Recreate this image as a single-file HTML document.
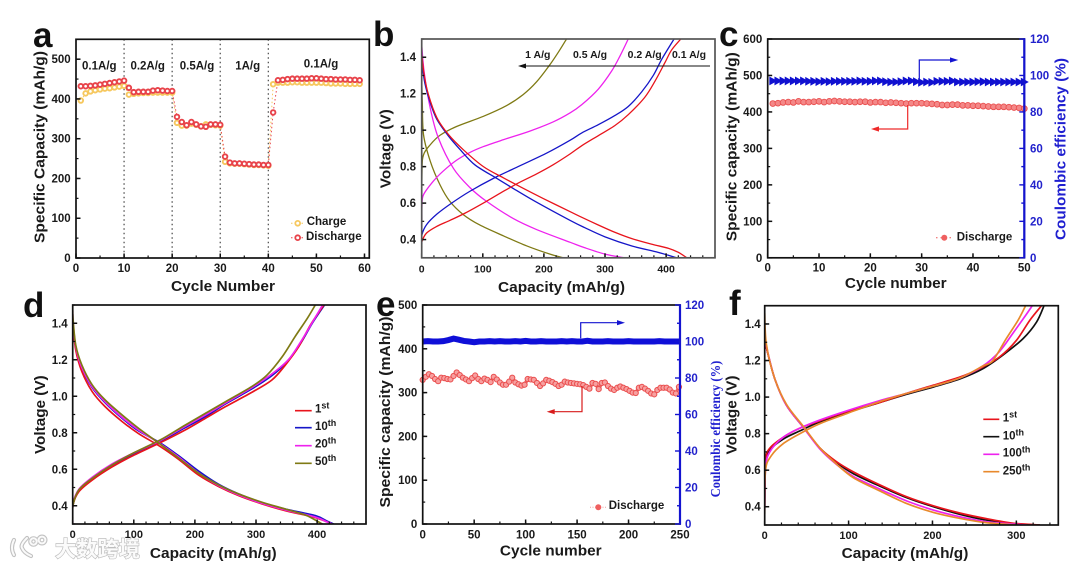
<!DOCTYPE html>
<html lang="en">
<head>
<meta charset="utf-8">
<title>Battery performance panels</title>
<style>
html,body{margin:0;padding:0;background:#fff;width:1080px;height:567px;overflow:hidden}
svg{display:block;filter:blur(0.3px)}
text{font-family:"Liberation Sans","Noto Sans CJK SC",sans-serif;font-weight:700;fill:#1a1a1a}
.serif{font-family:"Liberation Serif",serif}
.letter{font-size:35px;fill:#111}
.title{font-size:14.5px}
.note{font-size:11.5px}
.note-b{font-size:10.5px}
.leg{font-size:11.5px}
.sup{font-size:9px}
.blue{fill:#1f1fd0}
</style>
</head>
<body>
<svg id="figure" xmlns="http://www.w3.org/2000/svg" width="1080" height="567" viewBox="0 0 1080 567">
  <defs>
    <clipPath id="clip-b"><rect x="421.7" y="39" width="293.3" height="218.8"/></clipPath>
    <clipPath id="clip-d"><rect x="72.7" y="305" width="293.3" height="219"/></clipPath>
    <clipPath id="clip-f"><rect x="764.7" y="305.7" width="293.6" height="219.3"/></clipPath>
  </defs>

  <g>
    <g fill="none">
      <g stroke="#c2c2c2" stroke-width="4.2" stroke-linecap="round">
        <path d="M14 540 Q10 548 14 555"/>
        <path d="M27 538 Q20 545 22 548 Q24 553 31 556"/>
        <circle cx="33.5" cy="541.5" r="3.2"/>
        <circle cx="42" cy="540" r="3.4"/>
      </g>
      <g stroke="#fafafa" stroke-width="2" stroke-linecap="round">
        <path d="M14 540 Q10 548 14 555"/>
        <path d="M27 538 Q20 545 22 548 Q24 553 31 556"/>
        <circle cx="33.5" cy="541.5" r="3.2"/>
        <circle cx="42" cy="540" r="3.4"/>
      </g>
    </g>
    <text x="55" y="556.5" font-size="21.5" textLength="85" lengthAdjust="spacingAndGlyphs" style="fill:#fbfbfb;stroke:#bdbdbd;stroke-width:1.3;paint-order:stroke;font-weight:700">大数跨境</text>
  </g>

  <g id="panel-a">
    <text class="letter" x="33" y="47">a</text>
    <text class="title" x="223" y="291" text-anchor="middle" textLength="104" lengthAdjust="spacingAndGlyphs">Cycle Number</text>
    <text class="title" transform="translate(44.5 147) rotate(-90)" text-anchor="middle" textLength="192" lengthAdjust="spacingAndGlyphs">Specific Capacity (mAh/g)</text>
    <g id="plot-a"></g>
    <text class="note" x="99.3" y="69.3" text-anchor="middle">0.1A/g</text>
    <text class="note" x="147.7" y="69.3" text-anchor="middle">0.2A/g</text>
    <text class="note" x="197" y="69.3" text-anchor="middle">0.5A/g</text>
    <text class="note" x="247.7" y="69.3" text-anchor="middle">1A/g</text>
    <text class="note" x="321" y="67.3" text-anchor="middle">0.1A/g</text>
    <g>
      <line x1="291" x2="304" y1="223.3" y2="223.3" stroke="#f6c85f" stroke-width="1" stroke-dasharray="1.5 2"/>
      <circle cx="297.7" cy="223.3" r="2.4" fill="#fff" stroke="#f6c85f" stroke-width="1.8"/>
      <text class="leg" x="306.7" y="225">Charge</text>
      <line x1="291" x2="304" y1="237.7" y2="237.7" stroke="#e8434a" stroke-width="1" stroke-dasharray="1.5 2"/>
      <circle cx="297.7" cy="237.7" r="2.4" fill="#fff" stroke="#e8434a" stroke-width="1.8"/>
      <text class="leg" x="306" y="240">Discharge</text>
    </g>
  </g>

  <g id="panel-b">
    <text class="letter" x="373" y="46">b</text>
    <text class="title" x="561.5" y="292" text-anchor="middle" textLength="127" lengthAdjust="spacingAndGlyphs">Capacity (mAh/g)</text>
    <text class="title" transform="translate(390.7 148.7) rotate(-90)" text-anchor="middle" textLength="79" lengthAdjust="spacingAndGlyphs">Voltage (V)</text>
    <g id="plot-b"></g>
    <text class="note-b" x="537.8" y="58" text-anchor="middle">1 A/g</text>
    <text class="note-b" x="590" y="58" text-anchor="middle">0.5 A/g</text>
    <text class="note-b" x="644.7" y="58" text-anchor="middle">0.2 A/g</text>
    <text class="note-b" x="689" y="58" text-anchor="middle">0.1 A/g</text>
    <g>
      <line x1="710" y1="66" x2="522" y2="66" stroke="#111" stroke-width="1"/>
      <polygon points="518,66 526,63.5 526,68.5" fill="#111"/>
    </g>
  </g>

  <g id="panel-c">
    <text class="letter" x="719" y="46">c</text>
    <text class="title" x="895.8" y="288" text-anchor="middle" textLength="101.7" lengthAdjust="spacingAndGlyphs">Cycle number</text>
    <text class="title" transform="translate(736.7 146.7) rotate(-90)" text-anchor="middle" textLength="189" lengthAdjust="spacingAndGlyphs">Specific capacity (mAh/g)</text>
    <text class="title blue" transform="translate(1065.7 149) rotate(-90)" text-anchor="middle" textLength="182" lengthAdjust="spacingAndGlyphs">Coulombic efficiency (%)</text>
    <g id="plot-c"></g>
    <g>
      <polyline points="919.3,81.3 919.3,60 954,60" fill="none" stroke="#1414d0" stroke-width="1.2"/>
      <polygon points="958.3,60 950,57.4 950,62.6" fill="#1414d0"/>
    </g>
    <g>
      <polyline points="907.7,105 907.7,129 875,129" fill="none" stroke="#ee2a2a" stroke-width="1.2"/>
      <polygon points="871,129 879,126.4 879,131.6" fill="#ee2a2a"/>
    </g>
    <g>
      <line x1="936" x2="953" y1="237.7" y2="237.7" stroke="#ee5555" stroke-width="1" stroke-dasharray="1.5 3"/>
      <circle cx="944.3" cy="237.7" r="3" fill="#ef6060"/>
      <text class="leg" x="956.7" y="240.7">Discharge</text>
    </g>
  </g>

  <g id="panel-d">
    <text class="letter" x="23" y="317">d</text>
    <text class="title" x="213.3" y="558" text-anchor="middle" textLength="126.7" lengthAdjust="spacingAndGlyphs">Capacity (mAh/g)</text>
    <text class="title" transform="translate(45 414.7) rotate(-90)" text-anchor="middle" textLength="78.7" lengthAdjust="spacingAndGlyphs">Voltage (V)</text>
    <g id="plot-d"></g>
    <g>
      <line x1="295" x2="311.7" y1="410.7" y2="410.7" stroke="#e8141c" stroke-width="1.7"/>
      <text class="leg" x="315" y="412.7">1<tspan class="sup" dy="-4">st</tspan></text>
      <line x1="295" x2="311.7" y1="427.7" y2="427.7" stroke="#1616c8" stroke-width="1.7"/>
      <text class="leg" x="315" y="430">10<tspan class="sup" dy="-4">th</tspan></text>
      <line x1="295" x2="311.7" y1="445.7" y2="445.7" stroke="#ee22ee" stroke-width="1.7"/>
      <text class="leg" x="315" y="447.7">20<tspan class="sup" dy="-4">th</tspan></text>
      <line x1="295" x2="311.7" y1="463.3" y2="463.3" stroke="#7f7a14" stroke-width="1.7"/>
      <text class="leg" x="315" y="465">50<tspan class="sup" dy="-4">th</tspan></text>
    </g>
  </g>

  <g id="panel-e">
    <text class="letter" x="376" y="316">e</text>
    <text class="title" x="550.8" y="555.7" text-anchor="middle" textLength="101.7" lengthAdjust="spacingAndGlyphs">Cycle number</text>
    <text class="title" transform="translate(390 412) rotate(-90)" text-anchor="middle" textLength="191" lengthAdjust="spacingAndGlyphs">Specific capacity (mAh/g)</text>
    <text class="serif blue" font-size="13.5" transform="translate(720 429) rotate(-90)" text-anchor="middle" textLength="136.7" lengthAdjust="spacingAndGlyphs">Coulombic efficiency (%)</text>
    <g id="plot-e"></g>
    <g>
      <polyline points="580.7,338.3 580.7,322.7 621,322.7" fill="none" stroke="#1414d0" stroke-width="1.2"/>
      <polygon points="625,322.7 617,320.1 617,325.3" fill="#1414d0"/>
    </g>
    <g>
      <polyline points="582,386 582,411.7 550.7,411.7" fill="none" stroke="#d81c1c" stroke-width="1.2"/>
      <polygon points="546.7,411.7 554.7,409.1 554.7,414.3" fill="#d81c1c"/>
    </g>
    <g>
      <line x1="590" x2="606" y1="507.3" y2="507.3" stroke="#f0a0a0" stroke-width="1" stroke-dasharray="1 1.5"/>
      <circle cx="598.3" cy="507.3" r="3" fill="#ef6060"/>
      <text class="leg" x="608.7" y="509">Discharge</text>
    </g>
  </g>

  <g id="panel-f">
    <text class="letter" x="729" y="315">f</text>
    <text class="title" x="905" y="558" text-anchor="middle" textLength="126.7" lengthAdjust="spacingAndGlyphs">Capacity (mAh/g)</text>
    <text class="title" transform="translate(736.7 415) rotate(-90)" text-anchor="middle" textLength="79" lengthAdjust="spacingAndGlyphs">Voltage (V)</text>
    <g id="plot-f"></g>
    <g>
      <line x1="983.3" x2="999.3" y1="419.3" y2="419.3" stroke="#e8141c" stroke-width="1.7"/>
      <text class="leg" x="1002.7" y="421.7">1<tspan class="sup" dy="-4">st</tspan></text>
      <line x1="983.3" x2="999.3" y1="436.7" y2="436.7" stroke="#111" stroke-width="1.7"/>
      <text class="leg" x="1002.7" y="439.3">10<tspan class="sup" dy="-4">th</tspan></text>
      <line x1="983.3" x2="999.3" y1="454.3" y2="454.3" stroke="#ee22ee" stroke-width="1.7"/>
      <text class="leg" x="1002.7" y="456.7">100<tspan class="sup" dy="-4">th</tspan></text>
      <line x1="983.3" x2="999.3" y1="471.7" y2="471.7" stroke="#e8892c" stroke-width="1.7"/>
      <text class="leg" x="1002.7" y="474.3">250<tspan class="sup" dy="-4">th</tspan></text>
    </g>
  </g>
</svg>

<script>
// ---------- Panel a ----------
const aCycles = [1,2,3,4,5,6,7,8,9,10,11,12,13,14,15,16,17,18,19,20,21,22,23,24,25,26,27,28,29,30,31,32,33,34,35,36,37,38,39,40,41,42,43,44,45,46,47,48,49,50,51,52,53,54,55,56,57,58,59];
const aCharge = [396,414,419,422,424,426,427,429,431,433,411,413,414,415,415,416,416,416,416,416,340,333,333,338,335,331,336,335,334,333,242,238,237,237,236,235,234,234,233,232,437,441,441,441,442,442,441,441,441,441,441,440,439,439,439,438,438,438,438];
const aDischarge = [432,432,433,434,436,438,440,442,444,446,428,417,418,418,418,421,422,421,420,420,355,342,334,342,336,331,330,336,336,335,255,240,238,238,237,236,235,235,234,234,366,447,448,450,451,451,451,451,452,452,451,450,450,449,449,449,448,448,447];
const aSeparators = [10,20,30,40];
const aXTicks = ['0','10','20','30','40','50','60'];
const aYTicks = ['0','100','200','300','400','500'];

// ---------- Panel b: [capacity, voltage] ----------
const bXTicks = ['0','100','200','300','400'];
const bYTicks = ['0.4','0.6','0.8','1.0','1.2','1.4'];
const bChargeA01 = [[0,.3],[.3,.36],[.5,.39],[8,.436],[25,.473],[46,.505],[71,.545],[106,.61],[134,.665],[158,.71],[188,.76],[215,.81],[243,.87],[262,.915],[289,.97],[316,1.025],[338,1.085],[365,1.18],[382,1.27],[398,1.37],[409,1.44],[424,1.5]];
const bDischargeA01 = [[0,1.423],[4,1.304],[11,1.195],[25,1.067],[44,.975],[68,.893],[101,.8],[134,.738],[161,.69],[199,.625],[243,.553],[262,.522],[289,.48],[316,.44],[344,.405],[376,.375],[404,.352],[420,.33],[434,.3]];
const bChargeA02 = [[0,.3],[.3,.38],[.5,.427],[8,.482],[25,.54],[49,.6],[79,.665],[117,.735],[161,.805],[205,.875],[243,.945],[262,.985],[289,1.03],[316,1.08],[338,1.13],[360,1.21],[379,1.3],[393,1.39],[413,1.5]];
const bDischargeA02 = [[0,1.378],[5,1.26],[14,1.15],[25,1.058],[44,.967],[63,.893],[87,.81],[123,.735],[150,.68],[188,.605],[243,.505],[267,.465],[300,.415],[344,.365],[387,.33],[417,.3]];
const bChargeA05 = [[0,.3],[.3,.5],[.5,.59],[3,.646],[19,.72],[35,.775],[57,.835],[79,.878],[101,.91],[134,.948],[177,.995],[215,1.045],[243,1.095],[262,1.14],[289,1.225],[311,1.325],[325,1.41],[338,1.5]];
const bDischargeA05 = [[0,1.47],[4,1.32],[14,1.12],[27,.96],[52,.79],[79,.685],[106,.61],[150,.515],[188,.455],[243,.385],[267,.355],[300,.32],[331,.3]];
const bChargeA1 = [[0,.45],[.5,.774],[3,.865],[14,.92],[30,.972],[57,1.02],[101,1.076],[139,1.135],[166,1.195],[188,1.265],[210,1.36],[226,1.44],[237,1.5]];
const bDischargeA1 = [[0,1.28],[1,1.15],[3,.975],[14,.83],[30,.7],[46,.61],[68,.537],[95,.48],[134,.42],[172,.365],[210,.32],[232,.3]];

// ---------- Panel c ----------
const cCycles = [1,2,3,4,5,6,7,8,9,10,11,12,13,14,15,16,17,18,19,20,21,22,23,24,25,26,27,28,29,30,31,32,33,34,35,36,37,38,39,40,41,42,43,44,45,46,47,48,49,50];
const cCapacity = [423,424,426,427,426,429,427,427,428,429,427,429,430,429,428,428,427,428,428,426,427,427,425,426,425,424,423,424,424,424,423,422,421,419,419,420,420,418,418,417,417,416,415,414,414,414,413,412,411,409];
const cEfficiency = [97,97,97,97,97,97,97,96.8,96.8,96.6,96.8,96.6,96.8,96.8,96.8,96.8,96.8,97,96.8,96.8,97,97,96.6,96.4,96.4,96.6,97,97,96.6,96.2,96.4,96.2,96.8,96.8,96.8,97,96.4,96.4,96.4,96.4,96.6,96.6,96.4,96.4,96.4,96.4,96.4,96.4,96.4,96.4];
const cXTicks = ['0','10','20','30','40','50'];
const cYTicks = ['0','100','200','300','400','500','600'];
const cRightTicks = ['0','20','40','60','80','100','120'];

// ---------- Panel d: [capacity, voltage] ----------
const dXTicks = ['0','100','200','300','400'];
const dYTicks = ['0.4','0.6','0.8','1.0','1.2','1.4'];
const dCharge1 = [[0,.3],[.5,.404],[10,.477],[32,.541],[64,.612],[97,.672],[143,.745],[184,.815],[217,.879],[250,.943],[293,1.021],[326,1.089],[348,1.171],[370,1.272],[389,1.39],[411,1.5]];
const dCharge10 = [[0,.31],[.5,.404],[10,.48],[32,.55],[64,.622],[97,.68],[143,.752],[184,.828],[217,.888],[250,.958],[293,1.04],[326,1.113],[351,1.19],[373,1.29],[392,1.4],[412,1.5]];
const dCharge20 = [[0,.31],[.5,.41],[10,.49],[32,.556],[64,.628],[97,.685],[143,.757],[184,.835],[217,.897],[250,.963],[293,1.047],[326,1.122],[354,1.204],[375,1.308],[393,1.409],[409,1.5]];
const dCharge50 = [[0,.33],[.5,.404],[10,.486],[32,.55],[64,.623],[97,.685],[143,.76],[184,.842],[217,.906],[250,.97],[293,1.053],[318,1.116],[343,1.217],[364,1.327],[384,1.427],[397,1.5]];
const dDischarge1 = [[0,1.45],[.5,1.39],[5,1.253],[15,1.135],[32,1.025],[53,.943],[81,.861],[108,.795],[143,.725],[173,.655],[206,.568],[239,.505],[272,.455],[310,.41],[348,.373],[392,.34],[413,.316],[427,.295]];
const dDischarge10 = [[0,1.45],[.5,1.39],[5,1.272],[15,1.153],[32,1.047],[53,.965],[81,.879],[108,.81],[143,.745],[173,.675],[206,.59],[239,.517],[272,.464],[310,.417],[348,.382],[397,.346],[416,.316],[430,.295]];
const dDischarge20 = [[0,1.47],[.5,1.41],[5,1.272],[15,1.157],[32,1.052],[53,.97],[81,.884],[108,.815],[143,.74],[173,.668],[206,.58],[239,.51],[272,.459],[310,.413],[348,.377],[397,.338],[415,.313],[427,.295]];
const dDischarge50 = [[0,1.5],[.5,1.427],[5,1.28],[15,1.171],[32,1.062],[53,.98],[81,.897],[108,.824],[143,.738],[173,.662],[206,.578],[239,.514],[272,.464],[310,.419],[348,.382],[381,.349],[400,.316],[411,.295]];

// ---------- Panel e (sampled every 3 cycles) ----------
const eCycles = [0,3,6,9,12,15,18,21,24,27,30,33,36,39,42,45,48,51,54,57,60,63,66,69,72,75,78,81,84,87,90,93,96,99,102,105,108,111,114,117,120,123,126,129,132,135,138,141,144,147,150,153,156,159,162,165,168,171,174,177,180,183,186,189,192,195,198,201,204,207,210,213,216,219,222,225,228,231,234,237,240,243,246,249];
const eCapacity = [329,336,342,338,331,326,334,333,331,330,338,346,340,334,330,326,333,339,331,326,332,329,324,336,330,323,318,318,325,334,323,319,316,318,331,330,329,322,315,321,329,327,324,320,315,318,325,323,322,321,320,319,317,313,309,322,320,308,322,323,315,309,306,311,314,311,308,304,300,299,311,313,309,304,298,296,306,311,311,311,307,300,298,313];
const eEffCycles = [0,5,10,15,20,25,30,35,40,45,50,55,60,65,70,75,80,85,90,95,100,105,110,115,120,125,130,135,140,145,150,155,160,165,170,175,180,185,190,195,200,205,210,215,220,225,230,235,240,245,250];
const eEfficiency = [100,100.2,100,100,100.2,100.8,101.6,101,100.3,100,99.6,100,100,100.2,100,100.2,100,100,100.2,100,100.3,100,100,100.2,100,100,100,100.2,100,100.2,100,100,100.4,100,100,100,100.2,100,100,100,100.2,100,100,100,100,100,100.2,100,100,100,100];
const eXTicks = ['0','50','100','150','200','250'];
const eYTicks = ['0','100','200','300','400','500'];
const eRightTicks = ['0','20','40','60','80','100','120'];

// ---------- Panel f: [capacity, voltage] ----------
const fXTicks = ['0','100','200','300'];
const fYTicks = ['0.4','0.6','0.8','1.0','1.2','1.4'];
const fCharge1 = [[0,.4],[1,.65],[6,.72],[22,.78],[42,.83],[66,.87],[98,.92],[137,.97],[169,1.02],[201,1.065],[233,1.11],[256,1.155],[280,1.22],[300,1.31],[316,1.42],[330,1.5]];
const fCharge10 = [[0,.4],[1,.63],[6,.71],[22,.77],[42,.815],[66,.865],[98,.915],[137,.97],[169,1.015],[201,1.055],[233,1.1],[260,1.155],[284,1.23],[308,1.32],[324,1.41],[333,1.5]];
const fCharge100 = [[0,.38],[1,.61],[6,.7],[22,.78],[42,.83],[66,.875],[98,.925],[137,.98],[169,1.02],[201,1.06],[233,1.105],[260,1.17],[280,1.25],[296,1.35],[310,1.44],[319,1.5]];
const fCharge250 = [[0,.36],[1,.6],[8,.68],[22,.745],[42,.8],[66,.855],[98,.91],[137,.975],[169,1.02],[201,1.06],[233,1.105],[260,1.17],[272,1.2],[288,1.32],[302,1.42],[311,1.5]];
const fDischarge1 = [[0,1.3],[2,1.27],[12,1.1],[26,.955],[46,.835],[66,.72],[86,.645],[106,.59],[137,.52],[169,.455],[201,.405],[233,.365],[264,.335],[296,.31],[328,.3]];
const fDischarge10 = [[0,1.3],[2,1.27],[12,1.1],[26,.955],[46,.835],[66,.72],[86,.64],[106,.58],[137,.513],[169,.45],[201,.4],[233,.358],[264,.327],[296,.307],[328,.3]];
const fDischarge100 = [[0,1.35],[2,1.28],[12,1.1],[26,.955],[46,.835],[66,.715],[86,.63],[106,.565],[137,.497],[169,.432],[201,.382],[233,.345],[264,.318],[312,.3]];
const fDischarge250 = [[0,1.46],[2,1.29],[12,1.1],[26,.96],[46,.84],[66,.72],[86,.632],[106,.558],[137,.487],[169,.418],[201,.369],[233,.336],[264,.313],[300,.3]];

const NS = 'http://www.w3.org/2000/svg';

function make(tag, parent, attrs, name) {
  const el = document.createElementNS(NS, tag);
  for (const k in attrs) el.setAttribute(k, attrs[k]);
  
  
  parent.appendChild(el);
  return el;
}

function scale(d0, d1, p0, p1) {
  return function (v) { return p0 + (v - d0) * (p1 - p0) / (d1 - d0); };
}

function ticksBetween(lo, hi, step) {
  const out = [];
  const n = Math.floor((hi - lo) / step + 1e-6);
  for (let i = 0; i <= n; i++) out.push(lo + i * step);
  return out;
}

function buildPanel(cfg) {
  const g = document.getElementById(cfg.id);
  const x = scale(cfg.xLim[0], cfg.xLim[1], cfg.box.l, cfg.box.r);
  const y = scale(cfg.yLim[0], cfg.yLim[1], cfg.box.b, cfg.box.t);
  const y2 = cfg.rLim ? scale(cfg.rLim[0], cfg.rLim[1], cfg.box.b, cfg.box.t) : null;
  const marks = make('g', g, {}, 'plot-marks');
  const axes = make('g', g, {}, 'plot-axes');
  const tickColor = '#111';
  const blue = '#1414d0';

  ticksBetween(cfg.xLim[0], cfg.xLim[1], cfg.xMinor).forEach(function (v) {
    make('line', axes, { x1: x(v), x2: x(v), y1: cfg.box.b, y2: cfg.box.b - 2.5, stroke: tickColor, 'stroke-width': 1.2 }, 'x-minor-tick');
  });
  ticksBetween(cfg.yLim[0], cfg.yLim[1], cfg.yMinor).forEach(function (v) {
    make('line', axes, { x1: cfg.box.l, x2: cfg.box.l + 2.5, y1: y(v), y2: y(v), stroke: tickColor, 'stroke-width': 1.2 }, 'y-minor-tick');
  });
  cfg.xLabels.forEach(function (s) {
    const v = Number(s);
    make('line', axes, { x1: x(v), x2: x(v), y1: cfg.box.b, y2: cfg.box.b - 4.5, stroke: tickColor, 'stroke-width': 1.5 }, 'x-major-tick');
    const t = make('text', axes, { x: x(v), y: cfg.xBase, 'text-anchor': 'middle', 'font-size': cfg.xFont }, 'x-tick-label');
    t.textContent = s;
  });
  cfg.yLabels.forEach(function (s) {
    const v = Number(s);
    make('line', axes, { x1: cfg.box.l, x2: cfg.box.l + 4.5, y1: y(v), y2: y(v), stroke: tickColor, 'stroke-width': 1.5 }, 'y-major-tick');
    const t = make('text', axes, { x: cfg.yEnd, y: y(v) + 4, 'text-anchor': 'end', 'font-size': cfg.yFont }, 'y-tick-label');
    t.textContent = s;
  });
  make('rect', axes, { x: cfg.box.l, y: cfg.box.t, width: cfg.box.r - cfg.box.l, height: cfg.box.b - cfg.box.t, fill: 'none', stroke: cfg.frame || '#111', 'stroke-width': 1.7 }, 'plot-frame');
  if (cfg.rLim) {
    make('line', axes, { x1: cfg.box.r, x2: cfg.box.r, y1: cfg.box.t - 0.7, y2: cfg.box.b + 0.7, stroke: blue, 'stroke-width': 2.2 }, 'right-axis-line');
    ticksBetween(cfg.rLim[0], cfg.rLim[1], 10).forEach(function (v) {
      make('line', axes, { x1: cfg.box.r, x2: cfg.box.r - (v % 20 === 0 ? 5 : 3), y1: y2(v), y2: y2(v), stroke: blue, 'stroke-width': 1.4 }, 'right-axis-tick');
    });
    cfg.rLabels.forEach(function (s) {
      const t = make('text', axes, { x: cfg.rStart, y: y2(Number(s)) + 4, 'font-size': cfg.yFont, style: 'fill:#2222cc' }, 'right-tick-label');
      t.textContent = s;
    });
  }
  return { marks: marks, x: x, y: y, y2: y2 };
}

// Smooth curve through read (capacity, voltage) points
function drawCurve(p, pts, color, width, name, clip) {
  const c = pts.map(function (d) { return [p.x(d[0]), p.y(d[1])]; });
  let path = 'M' + c[0][0] + ' ' + c[0][1];
  for (let i = 0; i < c.length - 1; i++) {
    const a = c[Math.max(0, i - 1)], b = c[i], e = c[i + 1], f = c[Math.min(c.length - 1, i + 2)];
    const k = 0.16;
    path += ' C' + (b[0] + (e[0] - a[0]) * k) + ' ' + (b[1] + (e[1] - a[1]) * k) + ' ' +
      (e[0] - (f[0] - b[0]) * k) + ' ' + (e[1] - (f[1] - b[1]) * k) + ' ' + e[0] + ' ' + e[1];
  }
  make('path', p.marks, { d: path, fill: 'none', stroke: color, 'stroke-width': width, 'clip-path': 'url(#' + clip + ')' }, name);
}

function polyPoints(xs, ys, xf, yf) {
  return xs.map(function (v, i) { return xf(v) + ',' + yf(ys[i]); }).join(' ');
}

// Panel a
const panelA = buildPanel({ id: 'plot-a', box: { l: 76, r: 369.3, t: 39.3, b: 258 }, xLim: [0, 61], yLim: [0, 550], xMinor: 5, yMinor: 50, xLabels: aXTicks, yLabels: aYTicks, xBase: 272, xFont: 11.5, yEnd: 70.7, yFont: 11.5 });
aSeparators.forEach(function (v) {
  make('line', panelA.marks, { x1: panelA.x(v), x2: panelA.x(v), y1: 39.3, y2: 258, stroke: '#555', 'stroke-width': 1.3, 'stroke-dasharray': '1.5 3' }, 'rate-separator');
});
make('polyline', panelA.marks, { points: polyPoints(aCycles, aCharge, panelA.x, panelA.y), fill: 'none', stroke: '#f6c85f', 'stroke-width': 1, 'stroke-dasharray': '1.5 2.5' }, 'charge-line');
make('polyline', panelA.marks, { points: polyPoints(aCycles, aDischarge, panelA.x, panelA.y), fill: 'none', stroke: '#e8434a', 'stroke-width': 1, 'stroke-dasharray': '1.5 2.5' }, 'discharge-line');
aCycles.forEach(function (c, i) {
  make('circle', panelA.marks, { cx: panelA.x(c), cy: panelA.y(aCharge[i]), r: 2.3, fill: '#fff', stroke: '#f6c85f', 'stroke-width': 1.9 }, 'charge-point');
});
aCycles.forEach(function (c, i) {
  make('circle', panelA.marks, { cx: panelA.x(c), cy: panelA.y(aDischarge[i]), r: 2.3, fill: '#fff', stroke: '#e8434a', 'stroke-width': 1.9 }, 'discharge-point');
});

// Panel b
const panelB = buildPanel({ id: 'plot-b', box: { l: 421.7, r: 715, t: 39, b: 257.8 }, xLim: [0, 480], yLim: [.3, 1.5], xMinor: 20, yMinor: .1, xLabels: bXTicks, yLabels: bYTicks, xBase: 272.7, xFont: 10.5, yEnd: 416, yFont: 11.5, frame: '#555' });
drawCurve(panelB, bChargeA1, '#7f7a14', 1.3, 'charge-curve-1a', 'clip-b');
drawCurve(panelB, bDischargeA1, '#7f7a14', 1.3, 'discharge-curve-1a', 'clip-b');
drawCurve(panelB, bChargeA05, '#ee22ee', 1.3, 'charge-curve-0-5a', 'clip-b');
drawCurve(panelB, bDischargeA05, '#ee22ee', 1.3, 'discharge-curve-0-5a', 'clip-b');
drawCurve(panelB, bChargeA02, '#1616c8', 1.3, 'charge-curve-0-2a', 'clip-b');
drawCurve(panelB, bDischargeA02, '#1616c8', 1.3, 'discharge-curve-0-2a', 'clip-b');
drawCurve(panelB, bChargeA01, '#e8141c', 1.3, 'charge-curve-0-1a', 'clip-b');
drawCurve(panelB, bDischargeA01, '#e8141c', 1.3, 'discharge-curve-0-1a', 'clip-b');

// Panel c
const panelC = buildPanel({ id: 'plot-c', box: { l: 767.7, r: 1024.3, t: 39, b: 257.8 }, xLim: [0, 50], yLim: [0, 600], rLim: [0, 120], xMinor: 5, yMinor: 50, xLabels: cXTicks, yLabels: cYTicks, rLabels: cRightTicks, xBase: 271.7, xFont: 11.5, yEnd: 762.3, yFont: 11.5, rStart: 1030 });
cCycles.forEach(function (c, i) {
  make('circle', panelC.marks, { cx: panelC.x(c), cy: panelC.y(cCapacity[i]), r: 2.9, fill: '#f48888', stroke: '#ea4f4f', 'stroke-width': 0.9 }, 'capacity-point');
});
cCycles.forEach(function (c, i) {
  const px = panelC.x(c);
  const py = panelC.y2(cEfficiency[i]);
  make('polygon', panelC.marks, { points: (px - 3.5) + ',' + (py - 4.4) + ' ' + (px + 4.5) + ',' + py + ' ' + (px - 3.5) + ',' + (py + 4.4), fill: '#1010d0' }, 'efficiency-point');
});

// Panel d
const panelD = buildPanel({ id: 'plot-d', box: { l: 72.7, r: 366, t: 305, b: 524 }, xLim: [0, 480], yLim: [.3, 1.5], xMinor: 20, yMinor: .1, xLabels: dXTicks, yLabels: dYTicks, xBase: 538, xFont: 11, yEnd: 67.7, yFont: 11.5 });
drawCurve(panelD, dCharge10, '#1616c8', 1.7, 'charge-curve-10th', 'clip-d');
drawCurve(panelD, dDischarge10, '#1616c8', 1.7, 'discharge-curve-10th', 'clip-d');
drawCurve(panelD, dCharge1, '#e8141c', 1.7, 'charge-curve-1st', 'clip-d');
drawCurve(panelD, dDischarge1, '#e8141c', 1.7, 'discharge-curve-1st', 'clip-d');
drawCurve(panelD, dCharge20, '#ee22ee', 1.7, 'charge-curve-20th', 'clip-d');
drawCurve(panelD, dDischarge20, '#ee22ee', 1.7, 'discharge-curve-20th', 'clip-d');
drawCurve(panelD, dCharge50, '#7f7a14', 1.7, 'charge-curve-50th', 'clip-d');
drawCurve(panelD, dDischarge50, '#7f7a14', 1.7, 'discharge-curve-50th', 'clip-d');

// Panel e
const panelE = buildPanel({ id: 'plot-e', box: { l: 422.7, r: 680, t: 305, b: 524 }, xLim: [0, 250], yLim: [0, 500], rLim: [0, 120], xMinor: 25, yMinor: 50, xLabels: eXTicks, yLabels: eYTicks, rLabels: eRightTicks, xBase: 538.3, xFont: 11.5, yEnd: 417.3, yFont: 11.5, rStart: 685 });
make('polyline', panelE.marks, { points: polyPoints(eCycles, eCapacity, panelE.x, panelE.y), fill: 'none', stroke: '#ee6a6a', 'stroke-width': 3.5, 'stroke-linejoin': 'round' }, 'capacity-band');
eCycles.forEach(function (c, i) {
  make('circle', panelE.marks, { cx: panelE.x(c), cy: panelE.y(eCapacity[i]), r: 2.6, fill: '#f7a0a0', stroke: '#ea4f4f', 'stroke-width': 1 }, 'capacity-point');
});
make('polyline', panelE.marks, { points: polyPoints(eEffCycles, eEfficiency, panelE.x, panelE.y2), fill: 'none', stroke: '#0f0fd8', 'stroke-width': 6 }, 'efficiency-band');

// Panel f
const panelF = buildPanel({ id: 'plot-f', box: { l: 764.7, r: 1058.3, t: 305.7, b: 525 }, xLim: [0, 350], yLim: [.3, 1.5], xMinor: 20, yMinor: .1, xLabels: fXTicks, yLabels: fYTicks, xBase: 539, xFont: 11, yEnd: 760.7, yFont: 11.5 });
drawCurve(panelF, fCharge10, '#111', 1.7, 'charge-curve-10th', 'clip-f');
drawCurve(panelF, fDischarge10, '#111', 1.7, 'discharge-curve-10th', 'clip-f');
drawCurve(panelF, fCharge1, '#e8141c', 1.7, 'charge-curve-1st', 'clip-f');
drawCurve(panelF, fDischarge1, '#e8141c', 1.7, 'discharge-curve-1st', 'clip-f');
drawCurve(panelF, fCharge100, '#ee22ee', 1.7, 'charge-curve-100th', 'clip-f');
drawCurve(panelF, fDischarge100, '#ee22ee', 1.7, 'discharge-curve-100th', 'clip-f');
drawCurve(panelF, fCharge250, '#e8892c', 1.7, 'charge-curve-250th', 'clip-f');
drawCurve(panelF, fDischarge250, '#e8892c', 1.7, 'discharge-curve-250th', 'clip-f');
</script>
</body>
</html>
